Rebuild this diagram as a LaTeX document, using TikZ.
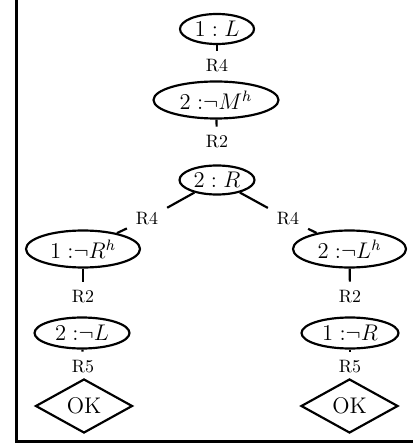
\documentclass[tikz,border=0pt]{standalone}
\usetikzlibrary{shapes.geometric}
\newlength\pxu
\setlength\pxu{0.53pt}
% negation sign set tight against the colon and the letter
\newcommand\ngt{\mathclose{\neg}}
\begin{document}
\begin{tikzpicture}[x=0.53pt, y=-0.53pt,
  ov/.style 2 args={ellipse, draw, line width=1.15pt, inner sep=0pt,
    font=\fontsize{12}{14}\selectfont,
    minimum width=#1*\pxu, minimum height=#2*\pxu},
  okbox/.style={diamond, draw, line width=1.15pt, inner sep=0pt,
    font=\fontsize{12}{14}\selectfont,
    minimum width=97*\pxu, minimum height=54*\pxu},
  rl/.style={font=\fontsize{9.5}{11}\selectfont, inner sep=4.6pt},
  link/.style={line width=1.15pt}]
\useasboundingbox (0,0) rectangle (413,447);

% frame
\draw[line width=1.45pt] (16.5,0) -- (16.5,441.5) -- (413,441.5);

% tree nodes
\node[ov={74}{30}]  (n1) at (217,29)  {$1:L$};
\node[ov={125}{37}] (n2) at (216,100) {$2:\ngt M^h$};
\node[ov={75}{29}]  (n3) at (217,180) {$2:R$};
\node[ov={114}{37}] (n4) at (83,249)  {$1:\ngt R^h$};
\node[ov={113}{37}] (n5) at (349.5,249) {$2:\ngt L^h$};
\node[ov={95}{31}]  (n6) at (82,333)  {$2:\ngt L$};
\node[ov={97}{31}]  (n7) at (350,333) {$1:\ngt R$};
\node[okbox] (k1) at (84,406)    {OK};
\node[okbox] (k2) at (349.5,406) {OK};

% rule labels
\node[rl] (l1) at (217,66)  {R4};
\node[rl] (l2) at (217,142) {R2};
\node[rl] (l3) at (147,219) {R4};
\node[rl] (l4) at (288,219) {R4};
\node[rl] (l5) at (83,297)  {R2};
\node[rl] (l6) at (350,297) {R2};
\node[rl] (l7) at (83,367)  {R5};
\node[rl] (l8) at (350,367) {R5};

% connectors
\draw[link] (n1) -- (l1);
\draw[link] (n2) -- (l2);
\draw[link] (n3) -- (l3);
\draw[link] (l3) -- (n4);
\draw[link] (n3) -- (l4);
\draw[link] (l4) -- (n5);
\draw[link] (n4) -- (l5);
\draw[link] (n5) -- (l6);
\draw[link] (n6) -- (l7);
\draw[link] (n7) -- (l8);
\end{tikzpicture}
\end{document}
